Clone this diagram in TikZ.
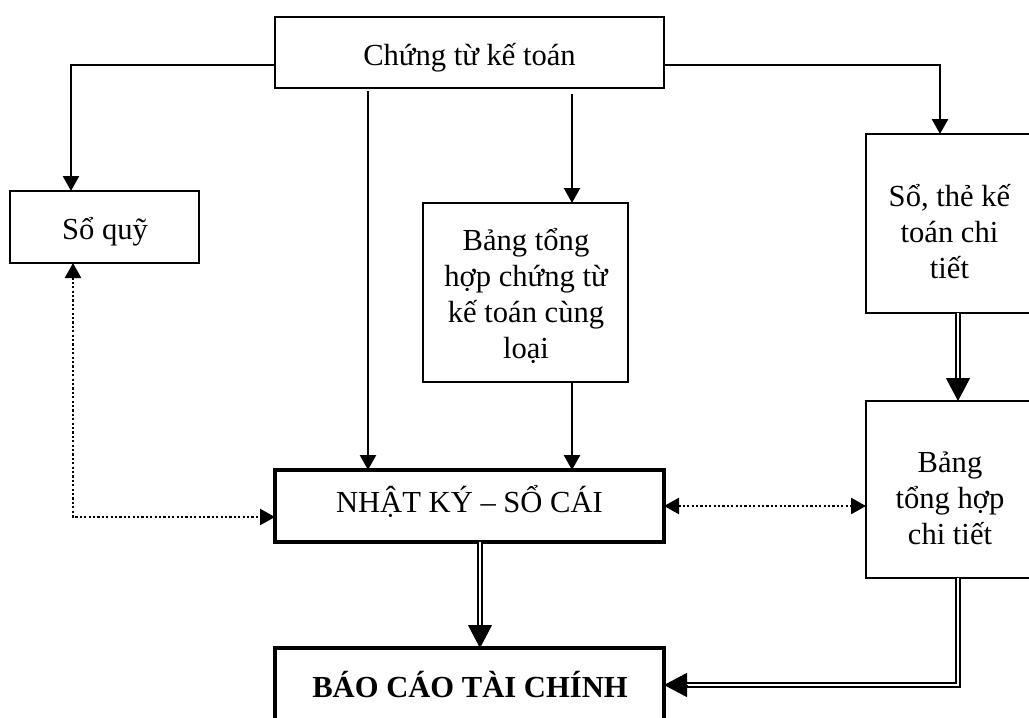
\documentclass[tikz,border=0pt]{standalone}
\usepackage{fontspec}
\setmainfont{Liberation Serif}
\usetikzlibrary{arrows.meta,calc}
\newcommand\diafont{\fontsize{30.6}{35.8}\selectfont}
\begin{document}
\begin{tikzpicture}[x=1pt,y=-1pt,
  box/.style={draw, line width=2.8pt, inner sep=0pt, outer sep=0pt},
  thickbox/.style={box, line width=4.8pt},
  txt/.style={inner sep=0pt, anchor=base, align=center, font=\diafont},
  conn/.style={line width=2.4pt, -{Triangle[length=15pt,width=16pt]}},
  dotl/.style={line width=2.4pt, dash pattern=on 2.2pt off 2.2pt,
    {Triangle[length=15pt,width=16pt]}-{Triangle[length=15pt,width=16pt]}},
  dbl/.style={double, double distance=2.5pt, line width=2.1pt, shorten >=18pt},
  bigtip/.style={line width=1pt, -{Triangle[length=23pt,width=24pt]}}]
\useasboundingbox (0,0) rectangle (1029,718);
\clip (0,0) rectangle (1029,718);
\fill[white] (0,0) rectangle (1029,718);
% boxes
\node[box, minimum width=389pt, minimum height=71pt] (T) at (469.5,52.5) {};
\node[box, minimum width=189pt, minimum height=72pt] (Q) at (104.5,227) {};
\node[box, minimum width=205pt, minimum height=179pt] (B) at (525.5,292.5) {};
\node[box, minimum width=167pt, minimum height=179pt] (S) at (949.5,223.5) {};
\node[box, minimum width=167pt, minimum height=177pt] (D) at (949.5,489.5) {};
\node[thickbox, minimum width=389pt, minimum height=72pt] (N) at (469.5,506) {};
\node[thickbox, minimum width=389pt, minimum height=72pt] (R) at (469.5,684) {};
% texts (base anchor = last line for multi-line nodes)
\node[txt] (Tt) at (469.5,65) {Chứng từ kế toán};
\node[txt] (Qt) at (105,239) {Sổ quỹ};
\node[txt] (Bt) at (526,358) {Bảng tổng\\hợp chứng từ\\kế toán cùng\\loại};
\node[txt] (St) at (949.5,278) {Sổ, thẻ kế\\toán chi\\tiết};
\node[txt] (Dt) at (950,544) {Bảng\\tổng hợp\\chi tiết};
\node[txt] (Nt) at (469.5,512) {NHẬT KÝ – SỔ CÁI};
\node[txt, font=\diafont\bfseries] (Rt) at (470,697) {BÁO CÁO TÀI CHÍNH};
% helper coordinates
\coordinate (a1) at (71,65);
\coordinate (a2) at (368,0);
\coordinate (a3) at (572,0);
\coordinate (a5) at (940,65);
\coordinate (a6) at (958,685);
\coordinate (a7) at (0,506);
\coordinate (a8) at (73,517);
\coordinate (a9) at (480,0);
% connectors
\draw[conn] (T.west |- a1) -| (Q.north -| a1);
\draw[conn, shorten <=3pt] (T.south -| a2) -- (N.north -| a2);
\draw[conn, shorten <=6pt] (T.south -| a3) -- (B.north -| a3);
\draw[conn] (B.south -| a3) -- (N.north -| a3);
\draw[conn] (T.east |- a5) -| (S.north -| a5);
\draw[dbl] (S.south -| a6) -- (D.north -| a6);
\draw[bigtip] ($(D.north -| a6)+(0,-23)$) -- (D.north -| a6);
\draw[dotl] (N.east |- a7) -- (D.west |- a7);
\draw[dotl] (Q.south -| a8) |- (N.west |- a8);
\draw[dbl] (N.south -| a9) -- (R.north -| a9);
\draw[bigtip] ($(R.north -| a9)+(0,-23)$) -- (R.north -| a9);
\draw[dbl] (D.south -| a6) |- (R.east |- a6);
\draw[bigtip] ($(R.east |- a6)+(23,0)$) -- (R.east |- a6);
\end{tikzpicture}
\end{document}
